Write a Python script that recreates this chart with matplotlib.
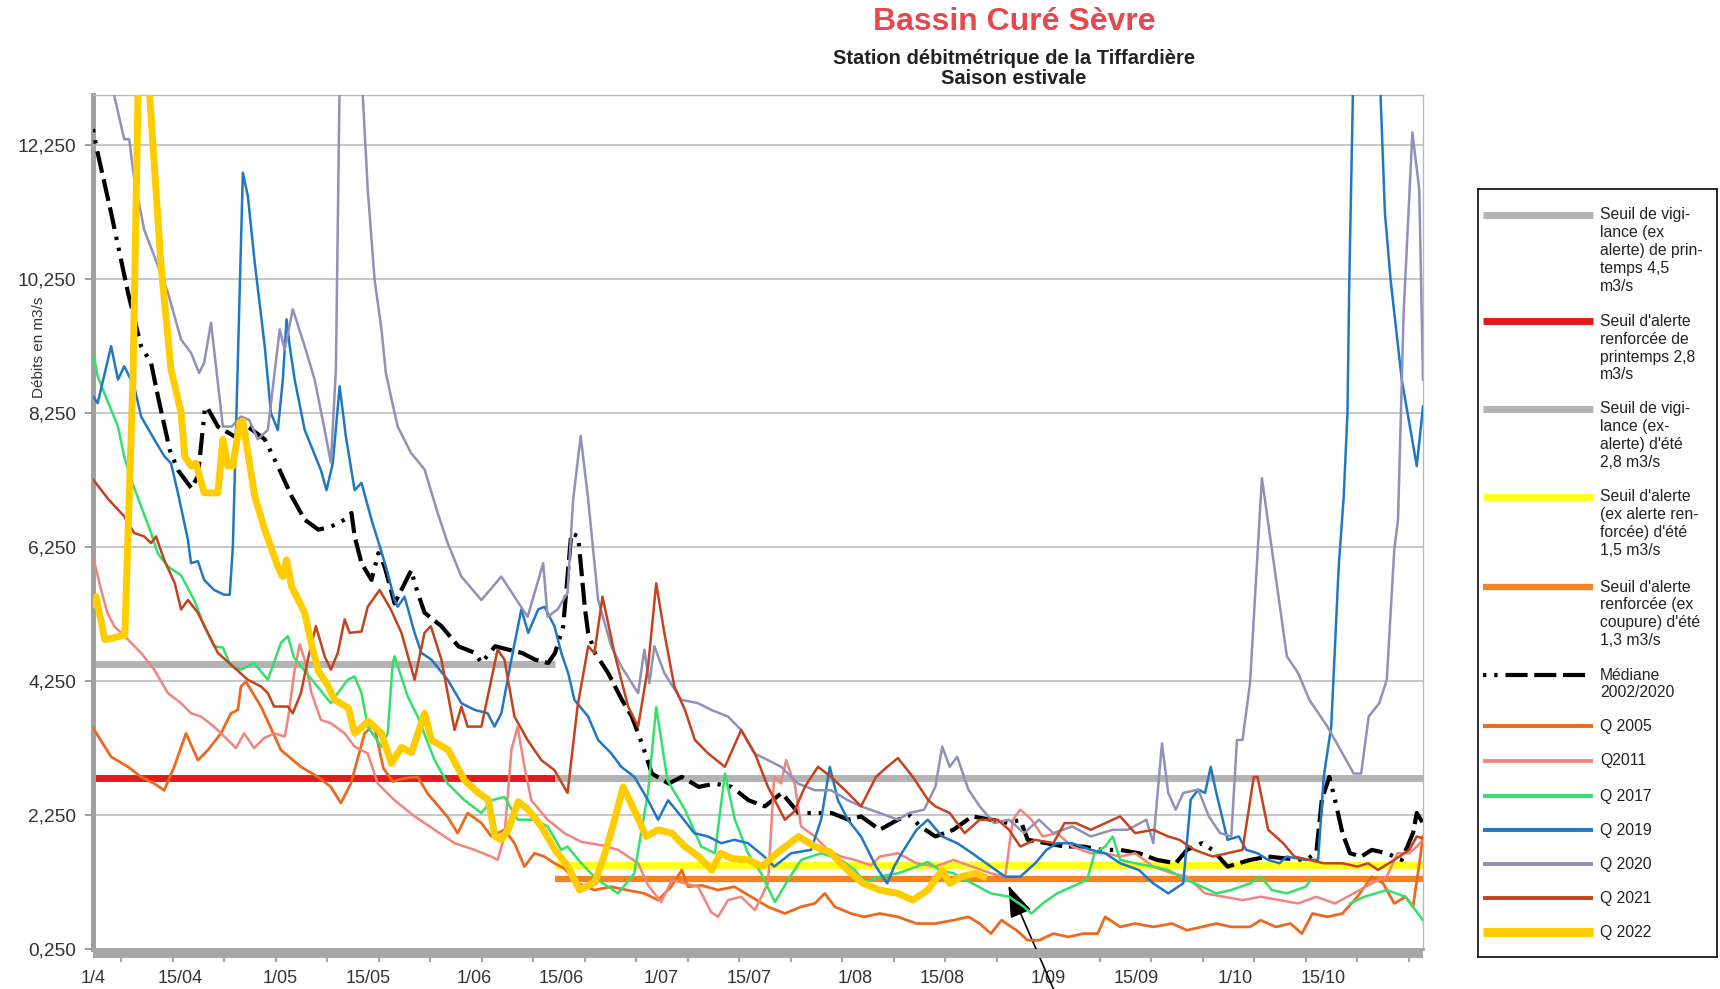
import numpy as np
import matplotlib
matplotlib.use('Agg')
import matplotlib.pyplot as plt
from matplotlib.patches import Rectangle

plt.rcParams['font.family'] = ['Liberation Sans', 'DejaVu Sans']

W, H = 1720, 989

# x axis = days since 1 April
tick_days = [0, 14, 30, 44, 61, 75, 91, 105, 122, 136, 153, 167, 183, 197]
tick_labels = ['1/4', '15/04', '1/05', '15/05', '1/06', '15/06', '1/07',
               '15/07', '1/08', '15/08', '1/09', '15/09', '1/10', '15/10']
y_ticks = [0.25, 2.25, 4.25, 6.25, 8.25, 10.25, 12.25]

# thresholds (value, first day, last day)
seuil_vig_printemps = (4.5, 0, 74)
seuil_alerte_printemps = (2.8, 0, 74)
seuil_vig_ete = (2.8, 74, 213)
seuil_alerte_ete = (1.5, 74, 213)
seuil_coupure_ete = (1.3, 74, 213)

mediane_day = [0, 0.5, 2.9, 5.6, 7.7, 9.3, 10.4, 12.3, 13.6, 15.75, 16.8, 17.9, 18.2, 20, 22.7, 24.8, 27.5,
               29.6, 31.8, 33.9, 36.1, 38.2, 40.3, 41.4, 41.9, 43, 44.6, 45.7, 46.7, 48.3, 51, 51.5, 53.1,
               55.8, 58.5, 61.2, 62.2, 64.4, 66.5, 68.7, 70.8, 72.9, 74, 75.3, 76.6, 77.7, 78.8, 79.3, 80.4,
               82.5, 84.7, 86.3, 87.9, 89.5, 92.2, 94.3, 97, 99.6, 102.3, 105, 107.6, 110.3, 113, 115.6,
               118.3, 121, 123, 126, 128.9, 130.7, 132.5, 134.9, 137.8, 140.8, 143.8, 146.7, 148.5, 149.7,
               152.7, 155.6, 158.6, 161.5, 164.5, 167.5, 170.4, 173.4, 175.2, 177.6, 179.3, 181.7, 185.3,
               188.2, 191.2, 194.2, 195.9, 196.8, 198, 198.9, 200.1, 201.3, 203.1, 204.8, 207.2, 209.6,
               211.4, 212, 213]
mediane_val = [12.49, 12.24, 11.24, 10.05, 9.25, 9.0, 8.5, 7.7, 7.4, 7.13, 7.31, 8.3, 8.35, 8.05, 7.9, 8.05,
               7.86, 7.46, 7.01, 6.66, 6.51, 6.56, 6.66, 6.76, 6.41, 6.01, 5.76, 6.16, 5.96, 5.41, 5.91,
               5.71, 5.27, 5.07, 4.77, 4.67, 4.52, 4.77, 4.72, 4.67, 4.57, 4.52, 4.67, 5.07, 6.46, 6.41,
               5.32, 4.97, 4.67, 4.37, 3.97, 3.72, 3.32, 2.87, 2.72, 2.82, 2.67, 2.72, 2.67, 2.47, 2.38,
               2.58, 2.28, 2.28, 2.28, 2.18, 2.23, 2.03, 2.18, 2.25, 2.08, 1.93, 2.03, 2.23, 2.18, 2.13,
               2.18, 1.88, 1.83, 1.78, 1.78, 1.73, 1.73, 1.68, 1.58, 1.53, 1.73, 1.83, 1.73, 1.48, 1.58,
               1.63, 1.6, 1.58, 1.68, 2.48, 2.82, 2.48, 1.98, 1.68, 1.63, 1.73, 1.68, 1.58, 1.98, 2.28, 2.13]

q2005_day = [0, 2.9, 5.6, 7.7, 9.8, 11.4, 13, 14.9, 16.8, 18.4, 20.5, 22.1, 23.2, 23.7, 24.5, 26.9, 30.1,
             33.3, 36, 38.1, 39.7, 41.3, 43.5, 45, 46.5, 48, 50, 52, 53.6, 56.8, 58.4, 60, 62.2, 63.8, 65.9,
             67.5, 69.1, 70.7, 72.3, 73.9, 75.5, 77.7, 80.3, 83, 85.5, 88.3, 90.5, 92.6, 94.3, 95.3, 97.5,
             100.1, 102.7, 105.4, 108.1, 110.8, 113.4, 115.6, 117.2, 118.8, 121.4, 123.5, 126, 128.9, 131.9,
             134.9, 137.8, 140.2, 142, 143.8, 145.5, 147.9, 149.7, 151.5, 153.8, 156.2, 158.6, 160.9, 162.1,
             164.5, 166.9, 169.8, 172.8, 175.2, 177.6, 179.9, 182.3, 185.3, 187, 189.4, 191.8, 193.6, 195.3,
             197.7, 200.1, 202.5, 204.8, 206.6, 208.4, 210.2, 211.4, 212.5, 213]
q2005_val = [3.55, 3.12, 2.97, 2.82, 2.72, 2.62, 2.97, 3.47, 3.07, 3.22, 3.47, 3.77, 3.82, 4.17, 4.24, 3.87,
             3.22, 2.97, 2.82, 2.67, 2.43, 2.72, 3.47, 3.6, 2.95, 2.75, 2.8, 2.82, 2.57, 2.22, 1.98, 2.28,
             2.13, 1.93, 2.03, 1.83, 1.48, 1.68, 1.63, 1.53, 1.45, 1.23, 1.13, 1.18, 1.13, 1.08, 0.98, 1.18,
             1.43, 1.18, 1.2, 1.13, 1.18, 1.03, 0.88, 0.78, 0.88, 0.93, 1.08, 0.88, 0.78, 0.73, 0.78, 0.73,
             0.63, 0.63, 0.68, 0.73, 0.63, 0.48, 0.68, 0.53, 0.38, 0.38, 0.48, 0.43, 0.48, 0.48, 0.73, 0.58,
             0.63, 0.58, 0.63, 0.53, 0.58, 0.63, 0.58, 0.58, 0.68, 0.58, 0.63, 0.48, 0.78, 0.73, 0.78, 1.03,
             1.33, 1.23, 0.93, 1.03, 0.88, 1.58, 1.93]

q2011_day = [0, 1.3, 2.3, 3.4, 5.6, 7.7, 9.8, 12, 14.1, 15.7, 17.3, 19.4, 21.6, 22.9, 24.2, 25.8, 27.4, 29.1,
             30.7, 31.2, 32.3, 33.1, 33.9, 35, 36.5, 38.1, 40.3, 41.9, 44, 45.6, 47.2, 48.3, 51.5, 54.7, 57.9,
             61.1, 63.8, 64.8, 65.9, 67, 68, 69.1, 70.2, 72.8, 75.5, 78.2, 81.4, 84.1, 87.3, 88.9, 91, 92.7,
             94.8, 96.9, 99, 100.1, 101.7, 103.8, 106, 108.1, 109.1, 110.2, 111, 112.4, 113.4, 115.6, 117.7,
             119.8, 122, 124.6, 126, 128.9, 131.9, 134.9, 137.8, 140.8, 143.8, 146.1, 147.3, 148.5, 150.3,
             152.1, 154.4, 156.8, 159.8, 162.1, 164.5, 166.9, 169.8, 172.8, 175.2, 178.1, 181.1, 184.1, 187,
             190, 193, 195.9, 198.9, 201.9, 204.8, 207.2, 208.9, 210.8, 212, 213]
q2011_val = [6.11, 5.61, 5.27, 5.07, 4.87, 4.67, 4.42, 4.07, 3.92, 3.77, 3.72, 3.57, 3.37, 3.25, 3.47, 3.25,
             3.4, 3.47, 3.42, 3.67, 4.42, 4.8, 4.57, 4.07, 3.67, 3.62, 3.47, 3.27, 3.17, 2.72, 2.57, 2.47,
             2.23, 2.03, 1.83, 1.73, 1.63, 1.58, 1.93, 3.22, 3.57, 2.97, 2.47, 2.18, 1.98, 1.85, 1.8, 1.73,
             1.53, 1.2, 0.95, 1.28, 1.23, 1.18, 0.8, 0.73, 0.98, 1.03, 0.83, 1.23, 2.82, 2.72, 3.07, 2.7,
             2.08, 1.93, 1.73, 1.63, 1.58, 1.5, 1.63, 1.68, 1.53, 1.48, 1.58, 1.48, 1.38, 1.33, 2.18, 2.33,
             2.18, 1.93, 1.98, 1.78, 1.68, 1.68, 1.63, 1.68, 1.48, 1.38, 1.33, 1.08, 1.03, 0.98, 1.03, 0.98,
             0.93, 1.03, 0.93, 1.08, 1.23, 1.33, 1.68, 1.68, 1.78, 1.88]

q2017_day = [0, 0.75, 2.9, 4, 5, 6.1, 7.7, 9.3, 10.4, 12, 14.1, 16.2, 17.8, 19.4, 20.8, 22.1, 23.7, 25.8, 28,
             30.1, 31.2, 32.2, 33.3, 35.5, 38.1, 39.2, 40.8, 41.9, 43, 44, 45.1, 46.2, 47.2, 48, 48.3, 50.4,
             52, 54.7, 56.8, 59.5, 62.2, 63.8, 65.9, 68, 70.7, 72.8, 75, 76, 78.2, 80.6, 84.1, 86.7, 88.9,
             90.2, 92, 94.8, 97.4, 99.6, 101.2, 102.8, 104.9, 107, 109.2, 111.3, 113.4, 116.6, 119.8, 122,
             123.5, 126, 128.9, 131.9, 133.7, 135.5, 137.8, 140.8, 143.8, 146.7, 149.1, 150.3, 152.1, 154.4,
             156.8, 159.2, 160.4, 162.1, 163.3, 164.5, 166.9, 169.8, 172.2, 175.2, 177.6, 179.9, 182.3,
             185.3, 187, 188.8, 191.2, 194.2, 195, 198, 201.3, 203.6, 207.2, 210.2, 213]
q2017_val = [9.15, 8.8, 8.3, 8.05, 7.6, 7.26, 6.86, 6.46, 6.15, 5.96, 5.83, 5.46, 5.07, 4.77, 4.75, 4.47,
             4.42, 4.52, 4.27, 4.82, 4.92, 4.6, 4.47, 4.22, 3.92, 4.07, 4.27, 4.32, 4.07, 3.57, 3.42, 3.27,
             3.47, 4.52, 4.62, 4.02, 3.72, 3.07, 2.72, 2.47, 2.28, 2.47, 2.52, 2.18, 2.18, 2.08, 1.73, 1.78,
             1.53, 1.3, 1.08, 1.38, 2.6, 3.86, 2.77, 2.33, 1.78, 1.68, 2.87, 2.18, 1.68, 1.38, 0.95, 1.28,
             1.58, 1.68, 1.58, 1.43, 1.25, 1.33, 1.38, 1.48, 1.55, 1.43, 1.38, 1.23, 1.08, 1.03, 0.88, 0.78,
             0.93, 1.08, 1.18, 1.28, 1.68, 1.78, 1.93, 1.58, 1.53, 1.48, 1.43, 1.28, 1.18, 1.08, 1.13, 1.23,
             1.33, 1.13, 1.08, 1.18, 1.28, np.nan, 0.93, 1.03, 1.13, 1.03, 0.68]

q2019_day = [0, 0.75, 2.9, 4, 5, 6.6, 7.7, 9.8, 11.4, 12.5, 13.6, 15.2, 15.7, 16.8, 17.8, 19.4, 21, 21.9, 22.4,
             22.9, 24, 24.8, 25.9, 27.5, 28.5, 29.6, 30.4, 31, 31.5, 32.3, 33.9, 35.2, 36.5, 37.4, 38.4, 39.5,
             40.5, 41.9, 43, 44.6, 46.1, 47.2, 48.3, 48.8, 49.9, 51.5, 52.6, 54.2, 56.8, 59, 61.1, 63.2, 64.3,
             65.4, 67, 68.6, 69.7, 71.3, 72.3, 73.9, 75, 76.1, 77.1, 79.3, 80.9, 83, 84.6, 86.7, 88.9, 90.5,
             92.1, 94.2, 96.3, 98.5, 100.6, 102.7, 104.9, 107.5, 109.1, 111.8, 115, 116.6, 118, 119.3, 120.9,
             123, 125.4, 127.2, 128.3, 129.5, 131.9, 133.7, 136, 138.4, 140.8, 143.8, 146.1, 148.5, 150.9,
             152.7, 154.4, 156.8, 159.8, 162.1, 164.5, 167.5, 169.8, 172.2, 174.6, 175.8, 177, 178.1, 179,
             179.9, 181.7, 183.5, 184.7, 186.5, 188.2, 190, 191.2, 194.2, 196.2, 197.1, 198.3, 199.5, 200.3,
             200.9, 201.2, 202.5, 204.5, 206.2, 206.9, 207.8, 209.6, 212, 213]
q2019_val = [8.5, 8.4, 9.25, 8.75, 8.95, 8.65, 8.2, 7.86, 7.61, 7.5, 7.06, 6.36, 6.01, 6.04, 5.76, 5.61, 5.54,
             5.54, 6.26, 8.0, 11.84, 11.49, 10.5, 9.25, 8.25, 8.0, 8.75, 9.65, 9.25, 8.75, 8.0, 7.7, 7.4, 7.1,
             7.5, 8.65, 7.9, 7.1, 7.21, 6.66, 6.21, 5.86, 5.46, 5.36, 5.51, 4.97, 4.67, 4.57, 4.27, 3.92, 3.82,
             3.77, 3.57, 3.77, 4.57, 5.32, 4.97, 5.32, 5.36, 5.07, 4.67, 4.37, 3.97, 3.72, 3.37, 3.17, 2.97,
             2.82, 2.47, 2.18, 2.47, 2.23, 1.98, 1.93, 1.83, 1.88, 1.83, 1.63, 1.48, 1.68, 1.73, 2.18, 2.97,
             2.47, 2.18, 1.93, 1.48, 1.23, 1.48, 1.68, 2.03, 2.18, 1.93, 1.83, 1.68, 1.48, 1.33, 1.33, 1.53,
             1.73, 1.83, 1.83, 1.73, 1.68, 1.53, 1.43, 1.23, 1.08, 1.23, 2.48, 2.63, 2.58, 2.97, 2.58, 1.88,
             1.93, 1.73, 1.68, 1.58, 1.53, 1.63, 1.58, 1.58, 2.82, 3.57, 5.96, 7.0, 8.25, 10.25, 16.5, 16.5,
             13.0, 11.24, 10.25, 8.75, 7.46, 8.35]

q2020_day = [0, 1.5, 3.4, 5, 5.8, 6.6, 8.2, 10.4, 12, 14.1, 15.7, 17, 17.8, 18.9, 20.8, 22.2, 23.7, 25, 26.4,
             28, 29.9, 30.7, 32, 33.9, 35.5, 37.1, 38.1, 38.9, 39.5, 40.5, 42, 43.2, 44, 45.1, 46.2, 46.9,
             48.3, 48.8, 50.9, 53.1, 55.2, 56.8, 59, 62.2, 65.4, 67.5, 69.6, 72.1, 72.8, 74.4, 76, 76.9, 78.1,
             79.3, 80.9, 83, 84.6, 87.3, 88.3, 89.1, 89.9, 91.5, 94.2, 96.9, 99, 101.7, 103.8, 105.9, 108.1,
             110.2, 112.9, 115.6, 118.2, 120.9, 123, 126, 128.9, 130.7, 133.1, 134.9, 136, 137.2, 138.4,
             140.2, 142, 144.3, 146.7, 149.1, 151.5, 153.8, 156.8, 159.8, 163.3, 165.7, 168.7, 169.8, 171.2,
             172.2, 173.4, 174.6, 177, 178.7, 180.5, 182.3, 183.2, 184.1, 185.3, 187.2, 191.2, 193, 194.8,
             197.7, 200.1, 201.9, 203.1, 204.3, 206, 207.2, 208.4, 209, 209.9, 211.3, 212.4, 213]
q2020_val = [14.6, 14.0, 12.99, 12.34, 12.34, 11.74, 10.99, 10.45, 10.05, 9.35, 9.15, 8.85, 9.0, 9.6, 8.05,
             8.05, 8.2, 8.15, 7.86, 8.0, 9.5, 9.2, 9.8, 9.25, 8.75, 8.0, 7.51, 8.9, 13.2, 16.5, 16.0, 13.0,
             11.59, 10.24, 9.5, 8.85, 8.25, 8.05, 7.66, 7.41, 6.76, 6.31, 5.81, 5.46, 5.81, 5.51, 5.21, 6.01,
             5.21, 5.32, 5.57, 6.96, 7.91, 6.96, 5.46, 4.77, 4.47, 4.07, 4.72, 4.22, 4.77, 4.37, 3.97, 3.92,
             3.82, 3.72, 3.52, 3.17, 3.07, 2.97, 2.72, 2.62, 2.62, 2.47, 2.38, 2.28, 2.18, 2.28, 2.33, 2.67,
             3.27, 2.97, 3.12, 2.63, 2.38, 2.13, 2.18, 1.98, 2.18, 1.98, 2.08, 1.93, 2.03, 2.03, 2.18, 1.83,
             3.32, 2.58, 2.33, 2.58, 2.63, 2.23, 1.98, 1.93, 3.37, 3.37, 4.22, 7.28, 4.62, 4.37, 3.97, 3.57,
             3.17, 2.87, 2.87, 3.72, 3.92, 4.27, 6.21, 6.66, 9.75, 12.44, 11.59, 8.75]

q2021_day = [0, 2.5, 5, 6.6, 8.2, 9.3, 10.1, 11.4, 13.1, 14.1, 15.2, 16.8, 18.4, 20, 22.4, 24.8, 26.9, 28, 29,
             31.2, 32, 33.3, 34.4, 35.7, 37.1, 38.1, 39.2, 40.3, 41.1, 43, 44, 45.9, 47.7, 49.4, 51.5, 53.1,
             54.1, 55.8, 57.9, 59, 60, 62.2, 64.8, 65.9, 67.5, 69.6, 71.8, 73.9, 76, 77.6, 79.3, 80.3, 81.6,
             83.5, 85.7, 87.3, 88.9, 90.2, 91.5, 93.1, 94.8, 96.4, 98.5, 101.2, 103.8, 106, 108.1, 110.8,
             112.3, 114, 116.1, 118.2, 120.9, 123, 125.4, 127.2, 128.9, 131.3, 133.7, 134.9, 137.2, 139.6,
             142, 144.9, 146.7, 148.5, 150.9, 153.8, 155.6, 157.4, 159.8, 163.3, 164.5, 166.9, 169.8, 172.2,
             174, 176.4, 179.3, 181.7, 184.1, 185.9, 186.5, 188.2, 190.6, 192.4, 194.8, 197.1, 200.1, 202.5,
             204.2, 205.8, 208.4, 210.8, 212, 213]
q2021_val = [7.26, 6.96, 6.71, 6.46, 6.41, 6.31, 6.41, 6.06, 5.71, 5.32, 5.46, 5.27, 4.97, 4.67, 4.47, 4.27,
             4.17, 4.07, 3.87, 3.87, 3.77, 4.07, 4.57, 5.07, 4.62, 4.42, 4.67, 5.17, 4.97, 4.99, 5.36, 5.61,
             5.32, 4.97, 4.27, 4.97, 5.07, 4.57, 3.52, 3.87, 3.57, 3.57, 4.72, 4.57, 3.72, 3.37, 3.07, 2.92,
             2.58, 3.87, 4.77, 4.67, 5.51, 4.67, 3.87, 3.57, 4.47, 5.71, 4.97, 4.17, 3.82, 3.37, 3.17, 2.97,
             3.52, 3.17, 2.67, 2.18, 2.3, 2.67, 2.97, 2.82, 2.58, 2.38, 2.82, 2.97, 3.1, 2.82, 2.48, 2.38,
             2.28, 1.98, 2.18, 2.18, 2.03, 1.78, 1.88, 1.83, 2.13, 2.13, 2.03, 2.18, 2.23, 1.98, 2.03, 1.93,
             1.88, 1.73, 1.63, 1.68, 1.73, 2.82, 2.82, 2.03, 1.83, 1.63, 1.58, 1.53, 1.53, 1.48, 1.53, 1.43,
             1.58, 1.73, 1.93, 1.9]

q2022_day = [0, 0.5, 1.9, 3.5, 5.1, 6.4, 7.5, 8.0, 10.9, 12.5, 14.1, 14.7, 15.75, 16.5, 17.8, 20, 20.8, 21.6,
             22.4, 23.5, 24, 25.9, 27.5, 29.6, 30.4, 31, 31.8, 33.9, 35, 36.1, 37.5, 38.7, 40.9, 41.9, 44.1,
             46.2, 47.8, 49.4, 51, 53.1, 54.2, 56.9, 59.5, 61.7, 63.3, 64.4, 65.4, 66.5, 68.1, 69.7, 71.8,
             74, 76.1, 77.9, 80.4, 82, 83.3, 84.9, 86.8, 88.6, 90.5, 92.7, 94.8, 97, 99.1, 100.5, 102.3, 105,
             107.1, 109.5, 113, 115.6, 118, 120.6, 123.3, 126, 128.9, 131.3, 133.7, 136, 137.2, 139, 141.4,
             142.6]
q2022_val = [5.4, 5.51, 4.87, 4.9, 4.94, 8.75, 14.5, 14.5, 10.45, 8.9, 8.26, 7.6, 7.46, 7.5, 7.06, 7.06, 7.86,
             7.46, 7.46, 8.11, 8.13, 7.01, 6.51, 5.96, 5.81, 6.06, 5.66, 5.27, 4.8, 4.4, 4.2, 3.97, 3.85,
             3.47, 3.65, 3.47, 3.02, 3.26, 3.18, 3.77, 3.37, 3.22, 2.77, 2.58, 2.48, 1.93, 1.88, 2.03, 2.45,
             2.33, 2.08, 1.73, 1.48, 1.13, 1.25, 1.68, 2.1, 2.67, 2.3, 1.93, 2.03, 1.98, 1.78, 1.63, 1.43,
             1.68, 1.6, 1.58, 1.48, 1.68, 1.93, 1.78, 1.7, 1.45, 1.23, 1.13, 1.08, 0.98, 1.13, 1.43, 1.23,
             1.33, 1.38, 1.33]

GRAY_T = '#b3b3b3'
styles = {
    'vig_p': dict(color=GRAY_T, lw=5),
    'alerte_p': dict(color='#e31a1c', lw=5),
    'vig_e': dict(color=GRAY_T, lw=5),
    'alerte_e': dict(color='#ffff1a', lw=5),
    'coupure_e': dict(color='#f58220', lw=4.5),
    'mediane': dict(color='black', lw=3, dashes=(0.8, 1.9, 0.8, 1.9, 5.3, 1.6, 5.3, 1.6, 5.3, 1.9)),
    'q2005': dict(color='#ec6a1f', lw=2.0),
    'q2011': dict(color='#f2847e', lw=1.8),
    'q2017': dict(color='#34e06c', lw=1.8),
    'q2019': dict(color='#1f78c4', lw=1.8),
    'q2020': dict(color='#9190b8', lw=1.8),
    'q2021': dict(color='#c4421c', lw=1.8),
    'q2022': dict(color='#ffcc00', lw=5),
}

fig = plt.figure(figsize=(W / 100, H / 100), dpi=100)
ax = fig.add_axes([93 / W, 1 - 949 / H, (1423 - 93) / W, (949 - 95) / H])

for key, (v, d0, d1) in [('vig_p', seuil_vig_printemps), ('alerte_p', seuil_alerte_printemps),
                         ('vig_e', seuil_vig_ete), ('alerte_e', seuil_alerte_ete),
                         ('coupure_e', seuil_coupure_ete)]:
    ax.plot([d0, d1], [v, v], solid_capstyle='butt', zorder=2, **styles[key])

series = [('mediane', mediane_day, mediane_val), ('q2005', q2005_day, q2005_val),
          ('q2011', q2011_day, q2011_val), ('q2017', q2017_day, q2017_val),
          ('q2019', q2019_day, q2019_val), ('q2020', q2020_day, q2020_val),
          ('q2021', q2021_day, q2021_val), ('q2022', q2022_day, q2022_val)]
for z, (key, d, v) in enumerate(series):
    ax.plot(d, v, solid_joinstyle='round', zorder=3 + z, **styles[key])

ax.set_xlim(0, 213)
ax.set_ylim(0.25, 13.0)
ax.set_yticks(y_ticks)
ax.set_yticklabels([f'{t:.3f}'.replace('.', ',') for t in y_ticks])
ax.set_xticks(tick_days)
ax.set_xticklabels(tick_labels)
ax.set_xticks(np.arange(4.5, 213, 8.25), minor=True)
ax.grid(axis='y', color='#b8b8b8', lw=1.1, zorder=1)
ax.set_axisbelow(True)

ax.tick_params(axis='y', length=6, width=1.5, color='#a0a0a0', pad=6, labelsize=13.8, labelcolor='#333333')
ax.tick_params(axis='x', which='major', length=0, pad=15, labelsize=13, labelcolor='#333333')
ax.tick_params(axis='x', which='minor', length=9.5, width=1.6, color='#a6a6a6')
ax.spines['left'].set_linewidth(3.6)
ax.spines['left'].set_color('#a0a0a0')
ax.spines['bottom'].set_linewidth(2)
ax.spines['bottom'].set_color('#a6a6a6')
for s in ('top', 'right'):
    ax.spines[s].set_linewidth(1.0)
    ax.spines[s].set_color('#b8b8b8')
ax.add_patch(Rectangle((0, -9 / 854), 1, 9 / 854, transform=ax.transAxes, clip_on=False,
                       color='#a6a6a6', lw=0, zorder=10))

ax.annotate('', xy=(146.6, 1.2), xytext=(154.3, -0.45), annotation_clip=False,
            arrowprops=dict(arrowstyle='-|>,head_length=2.0,head_width=0.7', color='black',
                            lw=1.2, shrinkA=0, shrinkB=0))

fig.text(1014 / W, 1 - 22 / H, 'Bassin Curé Sèvre', color='#e8474c', fontsize=23, fontweight='bold',
         ha='center', va='center')
fig.text(1014 / W, 1 - 59 / H, 'Station débitmétrique de la Tiffardière', color='#222222', fontsize=14.5,
         fontweight='bold', ha='center', va='center')
fig.text(1014 / W, 1 - 79 / H, 'Saison estivale', color='#222222', fontsize=14.5, fontweight='bold',
         ha='center', va='center')
fig.text(39 / W, 1 - 347 / H, 'Débits en m3/s', rotation=90, fontsize=11, color='#333333',
         ha='center', va='center')

# legend box drawn by hand so the handle sits on the first text line
bx0, by0, bw, bh = 1477.5, 189, 239.2, 767.5
lax = fig.add_axes([bx0 / W, 1 - (by0 + bh) / H, bw / W, bh / H])
lax.set_xlim(0, bw)
lax.set_ylim(bh, 0)
lax.set_xticks([])
lax.set_yticks([])
for s in lax.spines.values():
    s.set_linewidth(1.3)
    s.set_color('#1a1a1a')

legend_items = [
    ('vig_p', ['Seuil de vigi-', 'lance (ex', 'alerte) de prin-', 'temps 4,5', 'm3/s'], 26),
    ('alerte_p', ["Seuil d'alerte", 'renforcée de', 'printemps 2,8', 'm3/s'], 132.5),
    ('vig_e', ['Seuil de vigi-', 'lance (ex-', "alerte) d'été", '2,8 m3/s'], 220),
    ('alerte_e', ["Seuil d'alerte", '(ex alerte ren-', "forcée) d'été", '1,5 m3/s'], 308),
    ('coupure_e', ["Seuil d'alerte", 'renforcée (ex', "coupure) d'été", '1,3 m3/s'], 398),
    ('mediane', ['Médiane', '2002/2020'], 486),
    ('q2005', ['Q 2005'], 537),
    ('q2011', ['Q2011'], 572),
    ('q2017', ['Q 2017'], 607),
    ('q2019', ['Q 2019'], 641),
    ('q2020', ['Q 2020'], 675),
    ('q2021', ['Q 2021'], 709),
    ('q2022', ['Q 2022'], 743),
]
for key, lines, y in legend_items:
    st = dict(styles[key])
    if key.startswith('q') and key != 'q2022':
        st['lw'] = 2.8
    if key == 'q2022':
        st['lw'] = 6.5
    lax.plot([5.5, 115.5], [y, y], solid_capstyle='butt', **st)
    for k, t in enumerate(lines):
        lax.text(122.5, y + k * 17.8, t, fontsize=11.3, color='#222222', va='center', ha='left')

fig.savefig('out.png', dpi=100)
